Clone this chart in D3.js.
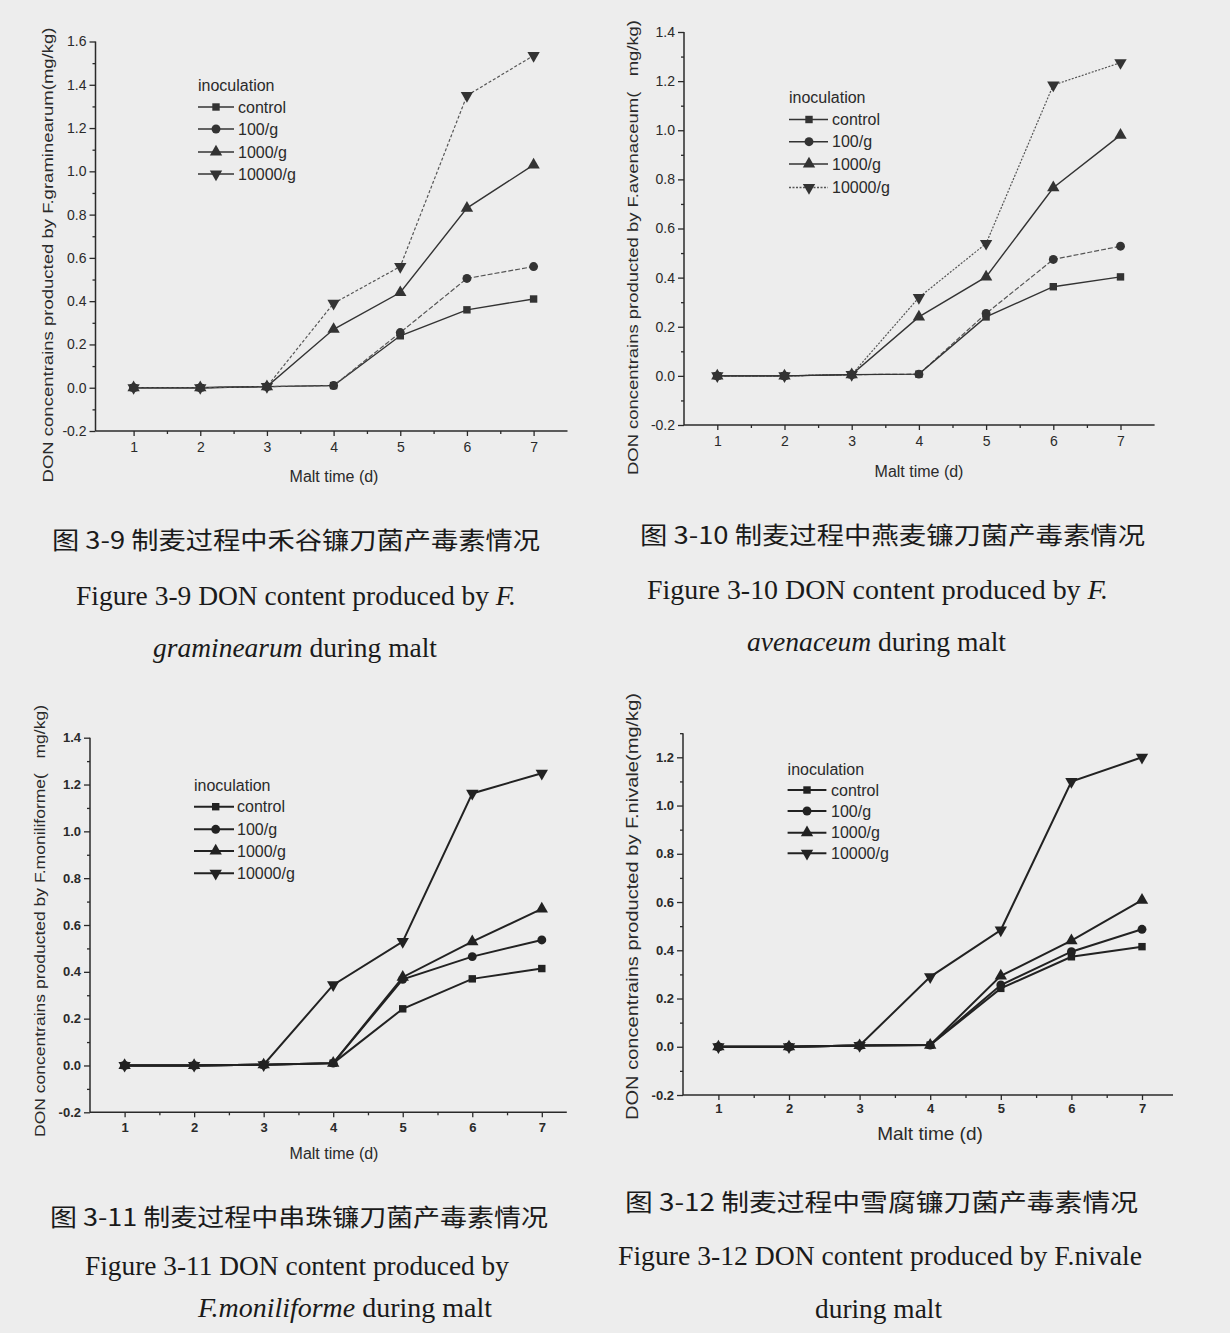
<!DOCTYPE html>
<html><head><meta charset="utf-8">
<script src="https://cdn.jsdelivr.net/npm/d3@7"></script>
<style>body{margin:0;background:#ededed}svg{display:block}</style>
</head><body>
<svg id="c" width="1230" height="1333"></svg>
<script>
// ---------- data ----------
const days = [1, 2, 3, 4, 5, 6, 7];
const seriesNames = ["control", "100/g", "1000/g", "10000/g"];
const legendTitle = "inoculation";
const xAxisTitle = "Malt time (d)";

// Fig 3-9  F.graminearum
const gramControl = [0, 0, 0.005, 0.01, 0.24, 0.36, 0.41];
const gram100     = [0, 0, 0.005, 0.01, 0.255, 0.505, 0.56];
const gram1000    = [0, 0, 0.005, 0.27, 0.44, 0.83, 1.03];
const gram10000   = [0, 0, 0.005, 0.39, 0.56, 1.35, 1.535];
// Fig 3-10 F.avenaceum
const avenControl = [0, 0, 0.005, 0.007, 0.24, 0.363, 0.403];
const aven100     = [0, 0, 0.005, 0.007, 0.254, 0.474, 0.528];
const aven1000    = [0, 0, 0.005, 0.24, 0.403, 0.766, 0.98];
const aven10000   = [0, 0, 0.005, 0.319, 0.539, 1.184, 1.275];
// Fig 3-11 F.moniliforme
const moniControl = [0, 0, 0.003, 0.01, 0.242, 0.37, 0.414];
const moni100     = [0, 0, 0.003, 0.01, 0.368, 0.465, 0.536];
const moni1000    = [0, 0, 0.003, 0.01, 0.377, 0.529, 0.669];
const moni10000   = [0, 0, 0.003, 0.344, 0.529, 1.162, 1.248];
// Fig 3-12 F.nivale
const nivControl  = [0, 0, 0.005, 0.007, 0.242, 0.373, 0.415];
const niv100      = [0, 0, 0.005, 0.007, 0.256, 0.394, 0.487];
const niv1000     = [0, 0, 0.005, 0.007, 0.294, 0.44, 0.608];
const niv10000    = [0, 0, 0.005, 0.29, 0.484, 1.099, 1.2];

const yTicks16 = [-0.2, 0, 0.2, 0.4, 0.6, 0.8, 1.0, 1.2, 1.4, 1.6];
const yTicks14 = [-0.2, 0, 0.2, 0.4, 0.6, 0.8, 1.0, 1.2, 1.4];
const yTicks12 = [-0.2, 0, 0.2, 0.4, 0.6, 0.8, 1.0, 1.2];

const yTitles = [
  "DON concentrains producted by F.graminearum(mg/kg)",
  "DON concentrains producted by F.avenaceum(\u00a0\u00a0 mg/kg)",
  "DON concentrains producted by F.moniliforme(\u00a0\u00a0 mg/kg)",
  "DON concentrains producted by F.nivale(mg/kg)"
];
const cnCaptions = [
  "图 3-9  制麦过程中禾谷镰刀菌产毒素情况",
  "图 3-10 制麦过程中燕麦镰刀菌产毒素情况",
  "图 3-11 制麦过程中串珠镰刀菌产毒素情况",
  "图  3-12 制麦过程中雪腐镰刀菌产毒素情况"
];
// english caption lines: arrays of [text, italic]
const enCaptions = [
  [[["Figure 3-9 DON content produced by ", false], ["F.", true]],
   [["graminearum", true], [" during malt", false]]],
  [[["Figure 3-10 DON content produced by ", false], ["F.", true]],
   [["avenaceum", true], [" during malt", false]]],
  [[["Figure 3-11 DON content produced by", false]],
   [["F.moniliforme", true], [" during malt", false]]],
  [[["Figure 3-12 DON content produced by F.nivale", false]],
   [["during malt", false]]]
];

// ---------- layout ----------
const svg = d3.select("#c");
svg.append("rect").attr("width", 1230).attr("height", 1333).attr("fill", "#ededed");

const SANS = "'Liberation Sans', Arial, sans-serif";
const SERIF = "'Liberation Serif', 'Times New Roman', serif";
const CJK = "'Noto Sans CJK SC', sans-serif";
const fmtY = v => d3.format(".1f")(v).replace("\u2212", "-");

const panels = [
  { series: [gramControl, gram100, gram1000, gram10000], yTicks: yTicks16, yTop: 1.6,
    x1: 133.6, x7: 533.6, ax0: 95.5, ax1: 567.5, yB: 431, yT: 41.5,
    tickFont: 14, tickBold: false, lw: 1.4, color: "#333",
    dash: [null, "5,2", null, "3,2"], legDash: [null, null, null, null], drawOrder: [0, 1, 2, 3],
    leg: { x: 198, ty: 85, ys: [107, 129, 152, 174], lx1: 234, mx: 216, tx: 238, fs: 16 },
    yLab: { x: 48, y: 255, len: 455, fs: 15 }, xLab: { x: 334, y: 482, fs: 16 },
    xTickDy: 17, yTitle: 0,
    cap: { cn: [52, 540, 540], en1: [76, 516, 596], en2: [153, 437, 648] } },
  { series: [avenControl, aven100, aven1000, aven10000], yTicks: yTicks14, yTop: 1.4,
    x1: 717.3, x7: 1120.5, ax0: 684, ax1: 1154.6, yB: 425, yT: 32,
    tickFont: 14, tickBold: false, lw: 1.4, color: "#333",
    dash: [null, "5,2", null, "2,1.5"], legDash: [null, null, null, "2,1.5"], drawOrder: [3, 2, 1, 0],
    leg: { x: 789, ty: 97, ys: [119.5, 141.7, 164, 187.5], lx1: 828, mx: 809, tx: 832, fs: 16 },
    yLab: { x: 633, y: 247.5, len: 455, fs: 15 }, xLab: { x: 919, y: 477, fs: 16 },
    xTickDy: 17, yTitle: 1,
    cap: { cn: [640, 1145, 535], en1: [647, 1108, 590], en2: [747, 1006, 642] } },
  { series: [moniControl, moni100, moni1000, moni10000], yTicks: yTicks14, yTop: 1.4,
    x1: 124.6, x7: 541.8, ax0: 90, ax1: 566.8, yB: 1112.3, yT: 737.7,
    tickFont: 13, tickBold: true, lw: 2, color: "#222",
    dash: [null, null, null, null], legDash: [null, null, null, null], drawOrder: [0, 1, 2, 3],
    leg: { x: 194, ty: 785.7, ys: [806.7, 829.3, 851, 873.3], lx1: 234, mx: 215.7, tx: 237, fs: 16 },
    yLab: { x: 40, y: 921, len: 432, fs: 15 }, xLab: { x: 334, y: 1158.5, fs: 16 },
    xTickDy: 16, yTitle: 2,
    cap: { cn: [50, 548, 1217], en1: [85, 509, 1266], en2: [198, 492, 1308] } },
  { series: [nivControl, niv100, niv1000, niv10000], yTicks: yTicks12, yTop: 1.3,
    x1: 718.4, x7: 1142, ax0: 683, ax1: 1173, yB: 1095, yT: 757.3, yTVal: 1.2,
    tickFont: 13, tickBold: true, lw: 2, color: "#222",
    dash: [null, null, null, null], legDash: [null, null, null, null], drawOrder: [0, 1, 2, 3],
    leg: { x: 787.6, ty: 769.3, ys: [790, 811, 832.7, 853.3], lx1: 826.4, mx: 807, tx: 831, fs: 16 },
    yLab: { x: 632, y: 906.5, len: 427, fs: 17 }, xLab: { x: 930, y: 1139.5, fs: 19 },
    xTickDy: 15, yTitle: 3,
    cap: { cn: [625, 1138, 1202], en1: [618, 1142, 1256], en2: [815, 942, 1309] } }
];

const symbols = [
  { type: d3.symbolSquare, size: 55, rot: 0 },
  { type: d3.symbolCircle, size: 62, rot: 0 },
  { type: d3.symbolTriangle, size: 66, rot: 0 },
  { type: d3.symbolTriangle, size: 66, rot: 180 }
];

panels.forEach((p, pi) => {
  const g = svg.append("g");
  const topTickVal = p.yTVal !== undefined ? p.yTVal : p.yTop;
  const x = d3.scaleLinear().domain([1, 7]).range([p.x1, p.x7]);
  const y = d3.scaleLinear().domain([-0.2, topTickVal]).range([p.yB, p.yT]);
  const axCol = "#2a2a2a";

  // axes lines
  g.append("line").attr("x1", p.ax0).attr("x2", p.ax0).attr("y1", y(-0.2)).attr("y2", y(p.yTop))
    .attr("stroke", axCol).attr("stroke-width", 1.5);
  g.append("line").attr("x1", p.ax0).attr("x2", p.ax1).attr("y1", y(-0.2)).attr("y2", y(-0.2))
    .attr("stroke", axCol).attr("stroke-width", 1.5);

  // y axis major / minor ticks
  g.append("g").attr("transform", `translate(${p.ax0},0)`)
    .call(d3.axisLeft(y).tickValues(p.yTicks).tickSize(6).tickPadding(3).tickFormat(fmtY));
  const yMinor = d3.range(-0.1, p.yTop + 0.001, 0.2).map(v => +v.toFixed(2));
  g.append("g").attr("transform", `translate(${p.ax0},0)`)
    .call(d3.axisLeft(y).tickValues(yMinor).tickSize(3).tickFormat(""));
  // x axis
  g.append("g").attr("transform", `translate(0,${y(-0.2)})`)
    .call(d3.axisBottom(x).tickValues(days).tickSize(5).tickPadding(p.xTickDy - 11).tickFormat(d3.format("d")));
  const xMinor = d3.range(1.5, 7, 1);
  g.append("g").attr("transform", `translate(0,${y(-0.2)})`)
    .call(d3.axisBottom(x).tickValues(xMinor).tickSize(3).tickFormat(""));
  g.selectAll(".domain").remove();
  g.selectAll(".tick line").attr("stroke", axCol).attr("stroke-width", 1.3);
  g.selectAll(".tick text").attr("fill", "#2a2a2a")
    .attr("font-family", SANS).attr("font-size", p.tickFont)
    .attr("font-weight", p.tickBold ? "bold" : "normal");

  // series lines
  const line = d3.line().x((d, i) => x(days[i])).y(d => y(d));
  p.drawOrder.forEach(si => {
    g.append("path").datum(p.series[si]).attr("d", line)
      .attr("fill", "none").attr("stroke", p.dash[si] ? "#555" : p.color)
      .attr("stroke-width", p.dash[si] ? p.lw * 0.85 : p.lw)
      .attr("stroke-dasharray", p.dash[si]);
  });
  // markers
  p.drawOrder.forEach(si => {
    const s = symbols[si];
    g.selectAll(null).data(p.series[si]).enter().append("path")
      .attr("d", d3.symbol().type(s.type).size(s.size)())
      .attr("transform", (d, i) => `translate(${x(days[i])},${y(d)}) rotate(${s.rot})`)
      .attr("fill", p.color).attr("stroke", "none");
  });

  // legend
  const L = p.leg;
  g.append("text").attr("x", L.x).attr("y", L.ty).attr("dy", "0.35em")
    .attr("font-family", SANS).attr("font-size", L.fs).attr("fill", "#2a2a2a").text(legendTitle);
  seriesNames.forEach((nm, si) => {
    const yy = L.ys[si];
    g.append("line").attr("x1", L.x).attr("x2", L.lx1).attr("y1", yy).attr("y2", yy)
      .attr("stroke", p.legDash[si] ? "#555" : p.color).attr("stroke-width", p.lw)
      .attr("stroke-dasharray", p.legDash[si]);
    const s = symbols[si];
    g.append("path").attr("d", d3.symbol().type(s.type).size(s.size)())
      .attr("transform", `translate(${L.mx},${yy}) rotate(${s.rot})`).attr("fill", p.color);
    g.append("text").attr("x", L.tx).attr("y", yy).attr("dy", "0.35em")
      .attr("font-family", SANS).attr("font-size", L.fs).attr("fill", "#2a2a2a").text(nm);
  });

  // axis titles
  g.append("text").attr("transform", `translate(${p.yLab.x},${p.yLab.y}) rotate(-90)`)
    .attr("text-anchor", "middle").attr("dy", "0.35em")
    .attr("font-family", SANS).attr("font-size", p.yLab.fs).attr("fill", "#2a2a2a")
    .attr("textLength", p.yLab.len).attr("lengthAdjust", "spacingAndGlyphs")
    .text(yTitles[p.yTitle]);
  g.append("text").attr("x", p.xLab.x).attr("y", p.xLab.y).attr("text-anchor", "middle")
    .attr("font-family", SANS).attr("font-size", p.xLab.fs).attr("fill", "#2a2a2a").text(xAxisTitle);

  // captions
  const c = p.cap;
  g.append("text").attr("x", c.cn[0]).attr("y", c.cn[2] + 9)
    .attr("font-family", CJK).attr("font-size", 24).attr("fill", "#1a1a1a")
    .attr("textLength", c.cn[1] - c.cn[0]).attr("lengthAdjust", "spacingAndGlyphs")
    .text(cnCaptions[pi]);
  [c.en1, c.en2].forEach((pos, li) => {
    const t = g.append("text").attr("x", pos[0]).attr("y", pos[2] + 9)
      .attr("font-family", SERIF).attr("font-size", 27).attr("fill", "#1a1a1a")
      .attr("textLength", pos[1] - pos[0]).attr("lengthAdjust", "spacingAndGlyphs");
    enCaptions[pi][li].forEach(([txt, it]) => {
      t.append("tspan").attr("font-style", it ? "italic" : "normal").text(txt);
    });
  });
});
</script>
</body></html>
